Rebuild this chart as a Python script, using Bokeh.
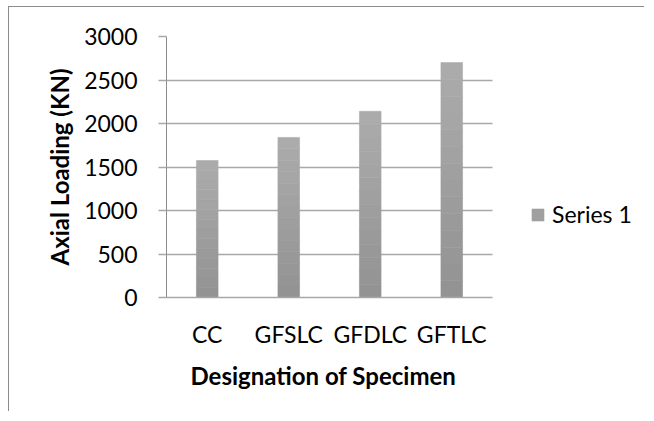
from bokeh.plotting import figure
from bokeh.models import Legend, LegendItem, ColumnDataSource, FixedTicker, Title
from bokeh.embed import file_html
from bokeh.resources import INLINE

categories = ["CC", "GFSLC", "GFDLC", "GFTLC"]
axial_loading = [1575, 1840, 2140, 2700]
y_ticks = [0, 500, 1000, 1500, 2000, 2500, 3000]
series_name = "Series 1"
x_title = "Designation of Specimen"
y_title = "Axial Loading (KN)"

FONT = "Lato"

W, H = 636, 405
ML, MT = 157, 29
FH = 261
ncat = len(categories)
xpos = [i + 0.5 for i in range(ncat)]
unit_px = 326 / ncat
x_end = (W - ML) / unit_px

p = figure(
    x_range=(0, x_end),
    y_range=(0, 3000),
    width=W, height=H,
    output_backend="svg", toolbar_location=None,
    min_border_left=ML, min_border_right=0,
    min_border_top=MT, min_border_bottom=H - MT - FH,
)
p.styles = {"border-top": "1px solid #8c8c8c", "border-left": "1px solid #8c8c8c",
            "margin-left": "8px", "margin-top": "6px"}
p.outline_line_color = None
p.background_fill_color = "white"
p.border_fill_color = "white"

# gradient bars built from data slices
n = 14
def lerp(a, b, t):
    return int(round(a + (b - a) * t))
mid_r = None
for k in range(n):
    t = (k + 0.5) / n
    g = lerp(0x92, 0xAC, t)
    col = "#%02x%02x%02x" % (g, g, g)
    src = ColumnDataSource(dict(
        x=xpos,
        bottom=[v * k / n for v in axial_loading],
        top=[v * (k + 1) / n for v in axial_loading],
    ))
    r = p.vbar(x="x", bottom="bottom", top="top", width=0.265, source=src,
               fill_color=col, line_color=col, line_width=0.6)
    if k == n // 2:
        mid_r = r

p.ygrid.grid_line_color = "#a8a8a8"
p.ygrid.grid_line_width = 1.5
p.ygrid.cross_bounds = (0, ncat)
p.xgrid.grid_line_color = None

p.yaxis.ticker = FixedTicker(ticks=y_ticks)
p.yaxis.axis_line_color = "#8c8c8c"
p.yaxis.axis_line_width = 1
p.yaxis.major_tick_out = 8
p.yaxis.major_tick_in = 0
p.yaxis.major_tick_line_color = "#a8a8a8"
p.yaxis.major_tick_line_width = 1.5
p.yaxis.minor_tick_line_color = None
p.yaxis.major_label_text_font = FONT
p.yaxis.major_label_text_font_size = "23px"
p.yaxis.major_label_text_color = "black"
p.yaxis.major_label_standoff = 21
p.yaxis.axis_label = y_title
p.yaxis.axis_label_text_font = FONT
p.yaxis.axis_label_text_font_size = "24px"
p.yaxis.axis_label_text_font_style = "bold"
p.yaxis.axis_label_text_color = "black"
p.yaxis.axis_label_standoff = 7

p.xaxis.ticker = FixedTicker(ticks=xpos)
p.xaxis.major_label_overrides = {x: c for x, c in zip(xpos, categories)}
p.xaxis.bounds = (0, ncat)
p.xaxis.axis_line_color = "#a8a8a8"
p.xaxis.axis_line_width = 1.5
p.xaxis.major_tick_line_color = None
p.xaxis.minor_tick_line_color = None
p.xaxis.major_label_text_font = FONT
p.xaxis.major_label_text_font_size = "23px"
p.xaxis.major_label_text_color = "black"
p.xaxis.major_label_standoff = 16

xt = Title(text=x_title, align="left", offset=24, standoff=16,
           text_font=FONT, text_font_size="24px", text_font_style="bold",
           text_color="black")
p.add_layout(xt, "below")

legend = Legend(items=[LegendItem(label=series_name, renderers=[mid_r])],
                location=(364, 69), padding=0, margin=0,
                border_line_color=None, background_fill_alpha=0,
                glyph_width=15, glyph_height=15, label_standoff=7,
                label_text_font=FONT, label_text_font_size="23px",
                label_text_color="black")
p.add_layout(legend)

open("out.html", "w").write(file_html(p, INLINE))
